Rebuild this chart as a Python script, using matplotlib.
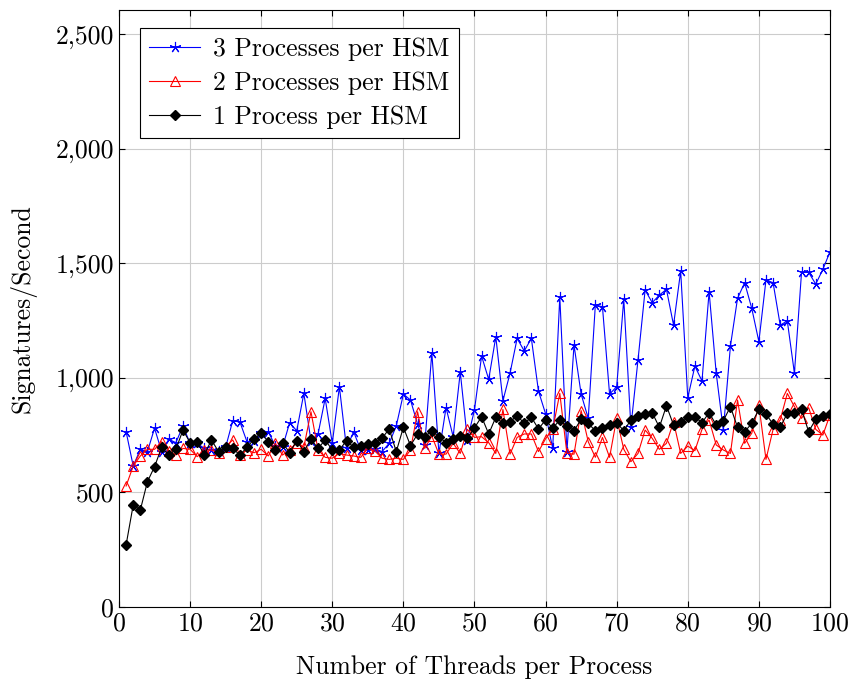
import numpy as np
import matplotlib
matplotlib.use("Agg")
import matplotlib.pyplot as plt

plt.rcParams['font.family'] = 'cmr10'
plt.rcParams['axes.formatter.use_mathtext'] = True
plt.rcParams['mathtext.fontset'] = 'cm'

threads = np.arange(1, 101)

three_proc = [765, 615, 688, 678, 780, 678, 732, 717, 790, 714,
              714, 692, 685, 680, 697, 813, 808, 721, 726, 760,
              765, 702, 697, 804, 769, 932, 725, 755, 910, 714,
              961, 692, 765, 685, 685, 690, 678, 714, 790, 929,
              903, 797, 707, 1110, 670, 870, 743, 1025, 730, 860,
              1095, 993, 1179, 900, 1020, 1172, 1117, 1172, 942, 843,
              692, 1354, 678, 1143, 929, 823, 1318, 1310, 929, 961,
              1343, 786, 1078, 1383, 1328, 1361, 1386, 1230, 1466, 913,
              1051, 986, 1376, 1020, 772, 1139, 1347, 1415, 1303, 1158,
              1427, 1415, 1230, 1248, 1020, 1460, 1460, 1409, 1473, 1550]

two_proc = [528, 615, 659, 688, 688, 721, 682, 663, 692, 688,
            656, 685, 685, 670, 700, 729, 663, 685, 673, 688,
            659, 714, 663, 685, 717, 697, 852, 685, 653, 649,
            670, 663, 659, 653, 692, 680, 649, 644, 649, 644,
            685, 852, 692, 746, 667, 667, 714, 670, 775, 740,
            743, 717, 670, 862, 667, 740, 755, 755, 678, 734,
            775, 932, 670, 667, 857, 721, 653, 740, 653, 823,
            688, 634, 670, 772, 736, 688, 714, 808, 670, 702,
            682, 775, 816, 707, 685, 670, 903, 714, 758, 881,
            644, 775, 816, 932, 874, 823, 870, 775, 750, 838]

one_proc = [271, 445, 423, 547, 612, 697, 663, 688, 772, 717,
            721, 663, 729, 678, 697, 692, 663, 697, 732, 760,
            721, 685, 717, 673, 726, 678, 732, 692, 729, 685,
            685, 726, 697, 702, 711, 714, 736, 777, 678, 784,
            704, 755, 743, 768, 743, 717, 732, 746, 736, 782,
            830, 755, 828, 801, 808, 835, 801, 828, 777, 816,
            780, 816, 790, 769, 819, 801, 769, 780, 794, 804,
            769, 816, 833, 842, 848, 784, 878, 794, 808, 830,
            830, 804, 848, 794, 813, 874, 784, 765, 801, 862,
            842, 798, 784, 845, 848, 862, 765, 819, 833, 841]

y_ticks = [0, 500, 1000, 1500, 2000, 2500]
y_labels = ['0', '500', '1,000', '1,500', '2,000', '2,500']

fig = plt.figure(figsize=(8.53, 6.81), dpi=100)
ax = fig.add_axes([0.1395, 0.1087, 0.8335, 0.8766])

ax.plot(threads, three_proc, color='blue', lw=0.8, marker=(5, 2, 0),
        ms=8, mew=0.8, label='3 Processes per HSM')
ax.plot(threads, two_proc, color='red', lw=0.8, marker='^', mfc='none',
        ms=7, mew=0.8, label='2 Processes per HSM')
ax.plot(threads, one_proc, color='black', lw=0.8, marker='D',
        ms=5.5, label='1 Process per HSM')

ax.set_xlim(0, 100)
ax.set_ylim(0, 2605)
ax.set_xticks(np.arange(0, 101, 10))
ax.set_yticks(y_ticks)
ax.set_yticklabels(y_labels)
ax.grid(True, color='#cccccc', lw=0.8)
ax.set_axisbelow(True)
ax.tick_params(direction='in', top=True, right=True, labelsize=18.5, length=4)
for s in ax.spines.values():
    s.set_linewidth(0.8)

ax.set_xlabel('Number of Threads per Process', fontsize=18.5, labelpad=14)
ax.set_ylabel('Signatures/Second', fontsize=18.5, labelpad=14)

leg = ax.legend(loc='upper left', bbox_to_anchor=(0.0295, 0.97), fontsize=18.5,
                fancybox=False, edgecolor='black', framealpha=1,
                handlelength=2.0, borderpad=0.35, labelspacing=0.4,
                handletextpad=0.5, borderaxespad=0)
leg.get_frame().set_linewidth(0.8)

fig.savefig('out.png', dpi=100)
